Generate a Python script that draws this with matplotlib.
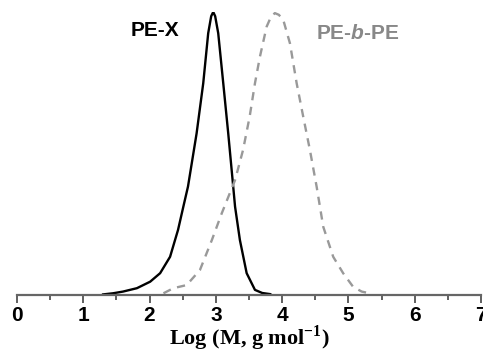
import numpy as np
import matplotlib.pyplot as plt

# GPC traces (log M, normalised signal)
pex_logm = [1.30, 1.45, 1.60, 1.81, 2.01, 2.16, 2.31, 2.43, 2.51, 2.58, 2.71, 2.81, 2.885, 2.93, 2.961,
            2.99, 3.036, 3.112, 3.187, 3.262, 3.29, 3.363, 3.465, 3.59, 3.70, 3.82]
pex_sig = [0.002, 0.006, 0.012, 0.024, 0.047, 0.077, 0.135, 0.23, 0.312, 0.383, 0.571, 0.748, 0.925, 0.985, 1.0,
           0.985, 0.925, 0.748, 0.571, 0.383, 0.312, 0.194, 0.077, 0.018, 0.007, 0.003]

pebpe_logm = [2.21, 2.36, 2.56, 2.76, 2.94, 3.09, 3.29, 3.41, 3.51, 3.59, 3.665, 3.766, 3.83, 3.89, 3.95, 4.017,
              4.118, 4.219, 4.318, 4.419, 4.52, 4.62, 4.77, 4.92, 5.07, 5.20, 5.32]
pebpe_sig = [0.006, 0.024, 0.035, 0.088, 0.194, 0.289, 0.406, 0.512, 0.63, 0.748, 0.842, 0.948, 0.982, 0.996, 0.99, 0.972,
             0.889, 0.748, 0.63, 0.512, 0.383, 0.241, 0.135, 0.077, 0.029, 0.012, 0.006]

plt.rcParams['mathtext.fontset'] = 'custom'
plt.rcParams['mathtext.rm'] = 'Liberation Serif:bold'
plt.rcParams['mathtext.bf'] = 'Liberation Serif:bold'
plt.rcParams['mathtext.it'] = 'Liberation Sans:bold:italic'

fig = plt.figure(figsize=(4.83, 3.52), dpi=100)
ax = fig.add_axes([0.035, 0.162, 0.961, 0.804])

ax.plot(pex_logm, pex_sig, color='black', lw=1.7, solid_joinstyle='round')
ax.plot(pebpe_logm, pebpe_sig, color='#999999', lw=1.7, ls=(0, (3.5, 2.8)))

ax.set_xlim(0, 7)
ax.set_ylim(0, 1.0)

for s in ['left', 'top', 'right']:
    ax.spines[s].set_visible(False)
ax.spines['bottom'].set_color('#666666')
ax.spines['bottom'].set_linewidth(1.6)

ax.set_yticks([])
ax.set_xticks(range(8))
ax.set_xticks(np.arange(0.5, 7, 1), minor=True)
ax.tick_params(axis='x', which='major', length=6, width=1.2, color='#444444', direction='out', pad=2)
ax.tick_params(axis='x', which='minor', length=3.5, width=1.2, color='#444444', direction='out')
for lab in ax.get_xticklabels():
    lab.set_fontfamily('Liberation Sans')
    lab.set_fontweight('bold')
    lab.set_fontsize(15)

ax.set_xlabel(r'Log (M, g mol$^{-1}$)', fontfamily='Liberation Serif',
              fontweight='bold', fontsize=16, labelpad=-1)

ax.text(2.08, 0.935, 'PE-X', fontfamily='Liberation Sans', fontweight='bold',
        fontsize=15, color='black', ha='center', va='center')
ax.text(5.14, 0.925, r'PE-$b$-PE', fontfamily='Liberation Sans', fontweight='bold',
        fontsize=15, color='#888888', ha='center', va='center')

fig.savefig('out.png', dpi=100)
